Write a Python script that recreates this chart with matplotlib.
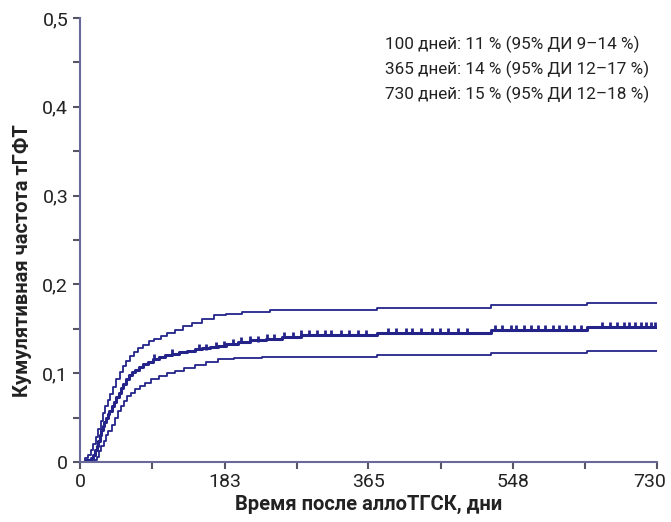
import matplotlib
matplotlib.use("Agg")
import matplotlib.pyplot as plt
from matplotlib.transforms import ScaledTranslation

# estimate and 95% CI (step curves), days after allo-HSCT
est_days = [0, 8, 14, 17, 19, 21, 23, 25, 27, 29, 31, 33, 35, 37, 40, 43, 46,
            49, 52, 55, 58, 62, 66, 70, 75, 80, 86, 92, 100, 108, 116, 125,
            135, 145, 155, 165, 175, 185, 200, 215, 235, 255, 280, 376, 520,
            642, 730]
est_vals = [0, 0.002, 0.004, 0.008, 0.013, 0.018, 0.024, 0.030, 0.036, 0.041,
            0.045, 0.050, 0.054, 0.058, 0.063, 0.068, 0.073, 0.078, 0.083,
            0.088, 0.094, 0.098, 0.101, 0.104, 0.107, 0.110, 0.113, 0.116,
            0.118, 0.120, 0.122, 0.124, 0.125, 0.127, 0.128, 0.130, 0.131,
            0.133, 0.135, 0.137, 0.139, 0.141, 0.143, 0.145, 0.149, 0.152,
            0.152]

up_days = [0, 6, 10, 14, 17, 20, 23, 26, 29, 32, 35, 38, 42, 46, 50, 54, 58,
           63, 68, 74, 80, 87, 94, 102, 110, 120, 130, 142, 155, 170, 185, 205,
           240, 376, 520, 642, 730]
up_vals = [0, 0.004, 0.008, 0.013, 0.020, 0.028, 0.037, 0.046, 0.055, 0.063,
           0.070, 0.077, 0.085, 0.093, 0.101, 0.108, 0.114, 0.119, 0.124,
           0.128, 0.132, 0.136, 0.139, 0.142, 0.145, 0.149, 0.153, 0.157,
           0.161, 0.165, 0.167, 0.169, 0.171, 0.174, 0.177, 0.179, 0.179]

lo_days = [0, 18, 21, 24, 27, 30, 33, 36, 40, 44, 48, 52, 56, 60, 65, 70, 76,
           82, 90, 100, 110, 120, 132, 145, 160, 175, 195, 230, 376, 520, 642,
           730]
lo_vals = [0, 0.002, 0.006, 0.012, 0.018, 0.024, 0.030, 0.035, 0.042, 0.050,
           0.057, 0.063, 0.069, 0.074, 0.078, 0.082, 0.086, 0.089, 0.093,
           0.097, 0.100, 0.103, 0.106, 0.109, 0.113, 0.116, 0.117, 0.118,
           0.121, 0.123, 0.125, 0.125]

# censoring marks on the estimate
censor_days = [94, 116, 150, 160, 172, 182, 193, 204, 215, 225, 236, 246, 258,
               270, 280, 290, 300, 310, 318, 330, 340, 352, 362, 390, 400, 412,
               420, 432, 445, 455, 466, 478, 490, 525, 534, 545, 552, 562, 570,
               580, 588, 598, 606, 615, 625, 634, 660, 670, 680, 688, 695, 702,
               710, 716, 722, 727]

xticks = [0, 183, 365, 548, 730]
yticks = [0, 0.1, 0.2, 0.3, 0.4, 0.5]
ytick_labels = ["0", "0,1", "0,2", "0,3", "0,4", "0,5"]

notes = ["100 дней: 11 % (95% ДИ 9–14 %)",
         "365 дней: 14 % (95% ДИ 12–17 %)",
         "730 дней: 15 % (95% ДИ 12–18 %)"]

plt.rcParams["font.family"] = ["Roboto", "DejaVu Sans"]

line_c = "#23238a"
axis_c = "#6a6a9a"
text_c = "#222222"

fig = plt.figure(figsize=(6.71, 5.22), dpi=100)
ax = fig.add_axes([0.1192, 0.1149, 0.8599, 0.8506])

ax.step(up_days, up_vals, where="post", color=line_c, lw=1.3)
ax.step(lo_days, lo_vals, where="post", color=line_c, lw=1.3)
ax.step(est_days, est_vals, where="post", color=line_c, lw=2.2)

# censor marks sit on the step curve
cens_y = []
for d in censor_days:
    v = 0
    for t, y in zip(est_days, est_vals):
        if t <= d:
            v = y
    cens_y.append(v + 0.002)
ax.plot(censor_days, cens_y, ls="none", marker="|", ms=4, mew=2.0, color=line_c)

ax.set_xlim(0, 730)
ax.set_ylim(0, 0.5)
ax.set_xticks(xticks)
ax.set_xticks([91.5, 274, 456.5, 639], minor=True)
ax.set_yticks(yticks)
ax.set_yticklabels(ytick_labels)
ax.set_yticks([0.05, 0.15, 0.25, 0.35, 0.45], minor=True)

for s in ["top", "right"]:
    ax.spines[s].set_visible(False)
for s in ["left", "bottom"]:
    ax.spines[s].set_color(axis_c)
    ax.spines[s].set_linewidth(1.5)
ax.tick_params(which="both", color="#555566", width=1.5, length=5,
               labelsize=14, labelcolor=text_c)
ax.tick_params(axis="x", pad=3)

# last x label is pulled in a little so it stays inside the figure
lab = ax.get_xticklabels()[-1]
lab.set_transform(lab.get_transform() + ScaledTranslation(-5 / 72, 0, fig.dpi_scale_trans))

ax.set_xlabel("Время после аллоТГСК, дни", fontsize=14.5, fontweight="bold",
              color=text_c, labelpad=3)
fig.text(0.033, 0.5, "Кумулятивная частота тГФТ", rotation=90, fontsize=14.5,
         fontweight="bold", color=text_c, ha="center", va="center")

for i, t in enumerate(notes):
    ax.text(0.529, 0.941 - i * 0.0565, t, transform=ax.transAxes, fontsize=12.3,
            color=text_c, va="center")

fig.savefig("out.png", dpi=100)
